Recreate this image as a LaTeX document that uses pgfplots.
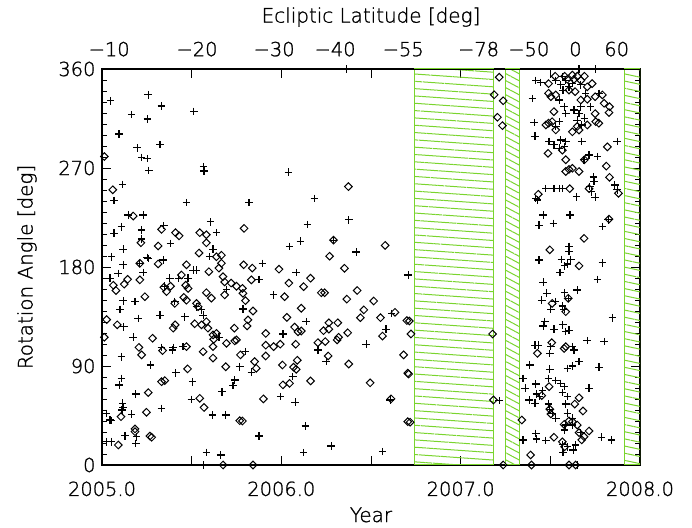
\documentclass[border=0pt]{standalone}
\usepackage{pgfplots}
\pgfplotsset{compat=1.18}
\usepackage{pgfplotstable}
\usetikzlibrary{patterns.meta,calc}
\usepackage{fontspec}
\setmainfont{DejaVu Sans}[UprightFont={* ExtraLight}, UprightFeatures={FakeBold=1.2}]
\definecolor{hatch}{RGB}{122,212,46}

\pgfplotstableread{
x y
2005.048 331.1
2005.258 336.6
2005.332 326.3
2005.165 318.5
2005.254 314.6
2005.512 321.4
2005.095 300.9
2005.323 291.2
2005.196 288.3
2005.221 279.5
2005.252 278.5
2005.261 267.8
2005.567 271.2
2005.569 267.3
2005.115 255.1
2005.067 240.5
2005.471 238.5
2005.146 227.3
2005.230 227.3
2005.606 221
2005.109 216.6
2005.345 217.6
2005.067 210.7
2005.221 213.7
2005.638 211.2
2005.221 205.4
2005.118 196.1
2005.382 201.5
2005.619 196.1
2005.054 189.3
2005.252 188.8
2005.118 182
2005.090 174.2
2005.045 169.8
2005.258 187.8
2005.230 174.9
2005.211 183.3
2005.341 186.4
2005.378 169.8
2005.350 162.5
2005.428 169.8
2005.480 169.8
2005.508 177.1
2005.527 177.1
2005.600 189.4
2005.694 159.6
2005.118 149.3
2005.184 148.5
2005.100 141.5
2005.406 148.5
2005.202 133.2
2005.323 136.1
2005.462 134.7
2005.527 143.9
2005.555 141
2005.564 136.1
2005.122 125.7
2005.174 116.1
2005.332 106.9
2005.393 104.6
2005.397 106.9
2005.452 107.6
2005.652 116.1
2005.109 98.4
2005.270 90.9
2005.109 78.8
2005.096 72.8
2005.412 83.9
2005.505 75.7
2005.189 64.5
2005.115 56.1
2005.118 52.5
2005.111 50
2005.165 46.1
2005.332 51.5
2005.499 59.7
2005.669 66.6
2005.616 45.5
2005.690 45.5
2005.026 46.9
2005.045 40.9
2005.054 40.3
2005.128 26.6
2005.193 25.7
2005.189 19.6
2005.026 21.1
2005.054 21.1
2005.582 11.5
2005.662 9.1
2005.564 0
2005.894 183.3
2005.875 168.8
2006.083 174.9
2006.417 193.7
2005.957 154.7
2005.786 141.8
2006.139 130.3
2006.009 119.1
2005.800 103
2005.768 89.3
2005.833 84.3
2005.740 77.2
2005.731 72.1
2006.064 80.3
2006.204 104.6
2006.250 94
2006.584 123.5
2006.615 137.9
2006.473 109.8
2006.707 172.7
2005.996 62.1
2006.077 57
2006.607 59.1
2005.875 26.3
2006.135 35.4
2006.124 11.2
2006.278 17.2
2006.565 12.1
2006.362 360
2006.040 266.1
2005.820 238.5
2006.185 242.4
2006.145 218.5
2006.376 222.9
2006.046 198.6
2006.107 203.4
2006.291 204.4
2007.215 58.5
2007.419 349.6
2007.447 347.7
2007.400 333.1
2007.410 311.2
2007.415 298.9
2007.567 353
2007.558 345.7
2007.571 340.8
2007.530 349.6
2007.586 349.6
2007.604 343.8
2007.623 346.7
2007.660 360
2007.753 360
2007.670 345.7
2007.697 337.9
2007.771 337.9
2007.549 331.8
2007.577 325.7
2007.586 319.4
2007.632 322.8
2007.660 319.4
2007.670 325.7
2007.650 313.5
2007.675 309.1
2007.690 315.2
2007.724 325.7
2007.530 307.8
2007.549 312.1
2007.493 294.1
2007.520 291
2007.549 288
2007.558 295.5
2007.586 294.1
2007.578 289.2
2007.675 294.1
2007.873 294.1
2007.762 280.4
2007.716 281.9
2007.688 277.5
2007.740 261.9
2007.743 257.6
2007.475 251.2
2007.520 251.2
2007.549 251.2
2007.567 251.2
2007.428 240.9
2007.419 242.4
2007.647 243.9
2007.720 253.1
2007.730 248.3
2007.750 243.4
2007.860 254.6
2007.873 250.2
2007.460 227.3
2007.517 219.7
2007.437 218
2007.610 227.3
2007.790 216.7
2007.823 222.9
2007.604 198.6
2007.604 194
2007.437 186.4
2007.562 186.8
2007.614 186.8
2007.595 182.8
2007.554 174.9
2007.580 181
2007.790 183.9
2007.762 168.8
2007.460 166.1
2007.480 156.2
2007.452 149.8
2007.527 148.5
2007.503 141.5
2007.580 156.6
2007.650 159.1
2007.600 151.5
2007.567 144.5
2007.577 141.5
2007.846 133.9
2007.469 130.3
2007.460 126.4
2007.520 123.5
2007.570 127.4
2007.604 122.5
2007.586 121.2
2007.415 108.9
2007.433 108.9
2007.503 107.6
2007.623 107.6
2007.632 104.6
2007.706 113
2007.800 112.1
2007.497 101.5
2007.385 90.9
2007.623 90
2007.660 94
2007.595 87.9
2007.497 87
2007.771 88.9
2007.348 78.8
2007.360 69.8
2007.419 73.7
2007.422 64.5
2007.456 67.5
2007.440 62.1
2007.415 56.1
2007.382 59.1
2007.490 78.8
2007.530 76.7
2007.558 74.2
2007.577 71.2
2007.567 65.8
2007.595 62.1
2007.716 69.8
2007.490 55.4
2007.497 50.7
2007.510 47
2007.530 42.5
2007.586 55.4
2007.595 47
2007.623 42.5
2007.586 36.3
2007.580 31.8
2007.623 36.3
2007.670 29.4
2007.419 28.8
2007.422 23.7
2007.475 22.1
2007.348 22.8
2007.786 25.2
2007.841 22.8
2007.567 18.8
2007.595 16.6
2007.641 18.2
2007.571 11.2
2007.627 13.6
2007.650 0
}\plusdata

\pgfplotstableread{
x y
2005.013 280.4
2005.060 250.2
2005.174 226.3
2005.332 214.2
2005.410 211.2
2005.430 208.3
2005.545 211.2
2005.582 209.3
2005.217 202
2005.313 199.1
2005.582 202
2005.541 192.7
2005.666 190.7
2005.638 189.3
2005.211 183.3
2005.211 168.3
2005.063 163.4
2005.078 158.6
2005.124 164.4
2005.143 168.8
2005.239 153
2005.313 182.8
2005.345 161.5
2005.360 157.6
2005.382 162.5
2005.471 182
2005.443 172.7
2005.467 163.4
2005.480 160.5
2005.456 152.4
2005.471 149.8
2005.406 146.9
2005.527 146.9
2005.536 143.9
2005.582 156.6
2005.610 151.7
2005.596 175.7
2005.652 179
2005.666 183.4
2005.675 171.2
2005.684 166.4
2005.684 154.7
2005.720 165.4
2005.750 162.5
2005.026 132.2
2005.085 127.4
2005.013 116.1
2005.206 106.9
2005.221 100.1
2005.282 115.2
2005.338 104
2005.397 124.4
2005.408 127.4
2005.471 107.6
2005.517 128.4
2005.555 127.4
2005.582 130.3
2005.591 124.4
2005.619 118.2
2005.623 114.3
2005.638 119.6
2005.619 107.6
2005.564 103
2005.619 97.2
2005.694 110.6
2005.740 112.8
2005.690 89.3
2005.477 87.4
2005.332 75.7
2005.350 76.7
2005.258 65.8
2005.248 47.9
2005.106 43.9
2005.545 60.6
2005.569 52.3
2005.184 32.8
2005.184 30.3
2005.267 26.3
2005.277 25.2
2005.091 18.2
2005.768 40.3
2005.783 40
2005.675 0
2005.790 182
2005.838 179
2005.833 168.3
2005.987 178
2006.042 165.4
2006.124 162.1
2006.163 169.8
2005.783 160.5
2005.786 156.1
2005.800 149.4
2006.018 153
2006.223 156.6
2006.241 156.6
2006.352 178.8
2006.423 158.6
2006.365 150.8
2006.515 149.1
2006.460 141
2006.441 133.9
2006.553 133.9
2006.634 138.8
2006.700 131.3
2005.842 140
2005.814 131.9
2005.809 126.4
2005.738 124.4
2005.750 113.7
2005.772 100.1
2005.851 94
2005.860 87.9
2005.913 119.6
2005.913 108.9
2005.913 99.1
2005.957 107.6
2005.994 109.8
2006.006 90.9
2006.031 134.2
2006.074 125.4
2006.093 121.1
2006.111 121.8
2006.111 142.5
2006.080 109.8
2006.089 95.2
2006.068 88.9
2006.083 87
2006.009 72.8
2006.046 74.2
2006.163 76.4
2006.204 111.2
2006.245 112.2
2006.235 122.1
2006.265 123.5
2006.265 129.3
2006.315 129.3
2006.311 113.7
2006.319 116.1
2006.261 99.1
2006.370 120.2
2006.376 91.8
2006.564 117.2
2006.682 100.1
2006.705 83.5
2006.495 74.7
2006.612 60.1
2005.900 60.1
2005.842 0
2006.705 39.4
2006.269 189.8
2006.374 253.1
2005.792 215.1
2006.291 204.4
2006.579 199.6
2006.714 130.9
2006.723 119.1
2006.710 82.7
2006.718 38.9
2007.178 119.1
2007.183 59.1
2007.237 0
2007.341 40.9
2007.390 9.1
2007.395 0
2007.497 195.6
2007.215 352.5
2007.187 336.6
2007.237 331.1
2007.205 316.1
2007.233 308.5
2007.490 346.7
2007.527 353.4
2007.580 353.4
2007.623 354.5
2007.595 350.6
2007.490 337.9
2007.530 336.4
2007.503 334.8
2007.632 350.6
2007.650 353.4
2007.670 349.6
2007.690 353.4
2007.604 340.8
2007.638 339.4
2007.706 343.8
2007.733 346.7
2007.670 331.8
2007.706 332.5
2007.750 334.8
2007.790 336.4
2007.800 328.8
2007.830 325.7
2007.827 320.4
2007.520 321.2
2007.510 312.1
2007.530 304.6
2007.475 309.1
2007.490 310.7
2007.623 302.9
2007.650 307.8
2007.750 319.4
2007.753 312.1
2007.770 310.7
2007.660 304.5
2007.706 309.1
2007.567 286.2
2007.586 277.5
2007.487 283.3
2007.818 289.2
2007.690 277.5
2007.604 268.7
2007.623 269.7
2007.660 266.8
2007.586 266.8
2007.812 271.7
2007.830 261.5
2007.716 251.2
2007.608 251.2
2007.433 246.1
2007.880 247
2007.688 206
2007.827 223.5
2007.660 181
2007.600 151.5
2007.510 146.9
2007.586 139.4
2007.508 111.2
2007.577 105.9
2007.586 107.6
2007.428 101.5
2007.493 71.2
2007.452 63.1
2007.660 61.1
2007.636 55.4
2007.682 49.1
2007.497 50.7
2007.503 46.4
2007.577 36.9
2007.604 40
2007.623 39.4
2007.650 36.3
2007.716 30.9
2007.660 29.4
2007.688 25.7
2007.520 25.2
2007.567 21.1
2007.580 16.6
2007.604 0
2007.641 0
2007.675 22.8
}\diamonddata

\begin{document}
\begin{tikzpicture}
\pgfplotsset{
  every axis/.append style={
    scale only axis, width=538bp, height=396bp,
    xmin=2005, xmax=2008, ymin=0, ymax=360,
    font=\fontsize{20}{23}\selectfont,
    tick label style={font=\fontsize{19.5}{22}\selectfont},
  },
}
\begin{axis}[
  name=main,
  xtick={2005,2005.5,...,2008},
  xticklabels={2005.0,,2006.0,,2007.0,,2008.0},
  minor x tick num=5,
  ytick={0,90,180,270,360},
  yticklabels={0,90,180,270,360},
  minor y tick num=8,
  tick align=inside,
  major tick length=9bp,
  minor tick length=5bp,
  axis line style={line width=1.1bp},
  every tick/.style={black, line width=0.9bp},
  xticklabel style={yshift=-13bp},
  yticklabel style={xshift=-3bp},
  xlabel={Year},
  xlabel style={at={(axis description cs:0.5,-0.126)}, anchor=center},
  ylabel={Rotation Angle [deg]},
  ylabel style={at={(axis description cs:-0.1394,0.5)}, anchor=center},
]
% hatched gaps
\addplot[draw=hatch, line width=1bp, pattern={Lines[angle=-4,distance=7.3bp,line width=1bp]}, pattern color=hatch]
  coordinates {(2006.745,0) (2006.745,360) (2007.185,360) (2007.185,0)} \closedcycle;
\addplot[draw=hatch, line width=1bp, pattern={Lines[angle=-28,distance=6.2bp,line width=1bp]}, pattern color=hatch]
  coordinates {(2007.250,0) (2007.250,360) (2007.330,360) (2007.330,0)} \closedcycle;
\addplot[draw=hatch, line width=1bp, pattern={Lines[angle=-12,distance=7bp,line width=1bp]}, pattern color=hatch]
  coordinates {(2007.915,0) (2007.915,360) (2008,360) (2008,0)} \closedcycle;
% data
\addplot[only marks, mark=+, mark size=3.8bp, mark options={line width=1.2bp, black}]
  table[x=x, y=y] {\plusdata};
\addplot[only marks, mark=square, mark size=2.7bp, mark options={rotate=45, line width=1bp, black, fill=white}]
  table[x=x, y=y] {\diamonddata};
\end{axis}
\begin{axis}[
  axis x line*=top, axis y line=none,
  xtick={2005.04,2005.53,2005.96,2006.30,2006.68,2007.10,2007.38,2007.64,2007.87},
  xticklabels={−10,−20,−30,−40,−55,−78,−50,0,60},
  xtick style={draw=none},
  xticklabel style={yshift=9bp},
  xlabel={Ecliptic Latitude [deg]},
  xlabel style={at={(axis description cs:0.5,1.131)}, anchor=center},
]
\end{axis}
\path ($(main.south west)+(-102bp,-63bp)$) rectangle ($(main.north east)+(52bp,69bp)$);
\end{tikzpicture}
\end{document}
